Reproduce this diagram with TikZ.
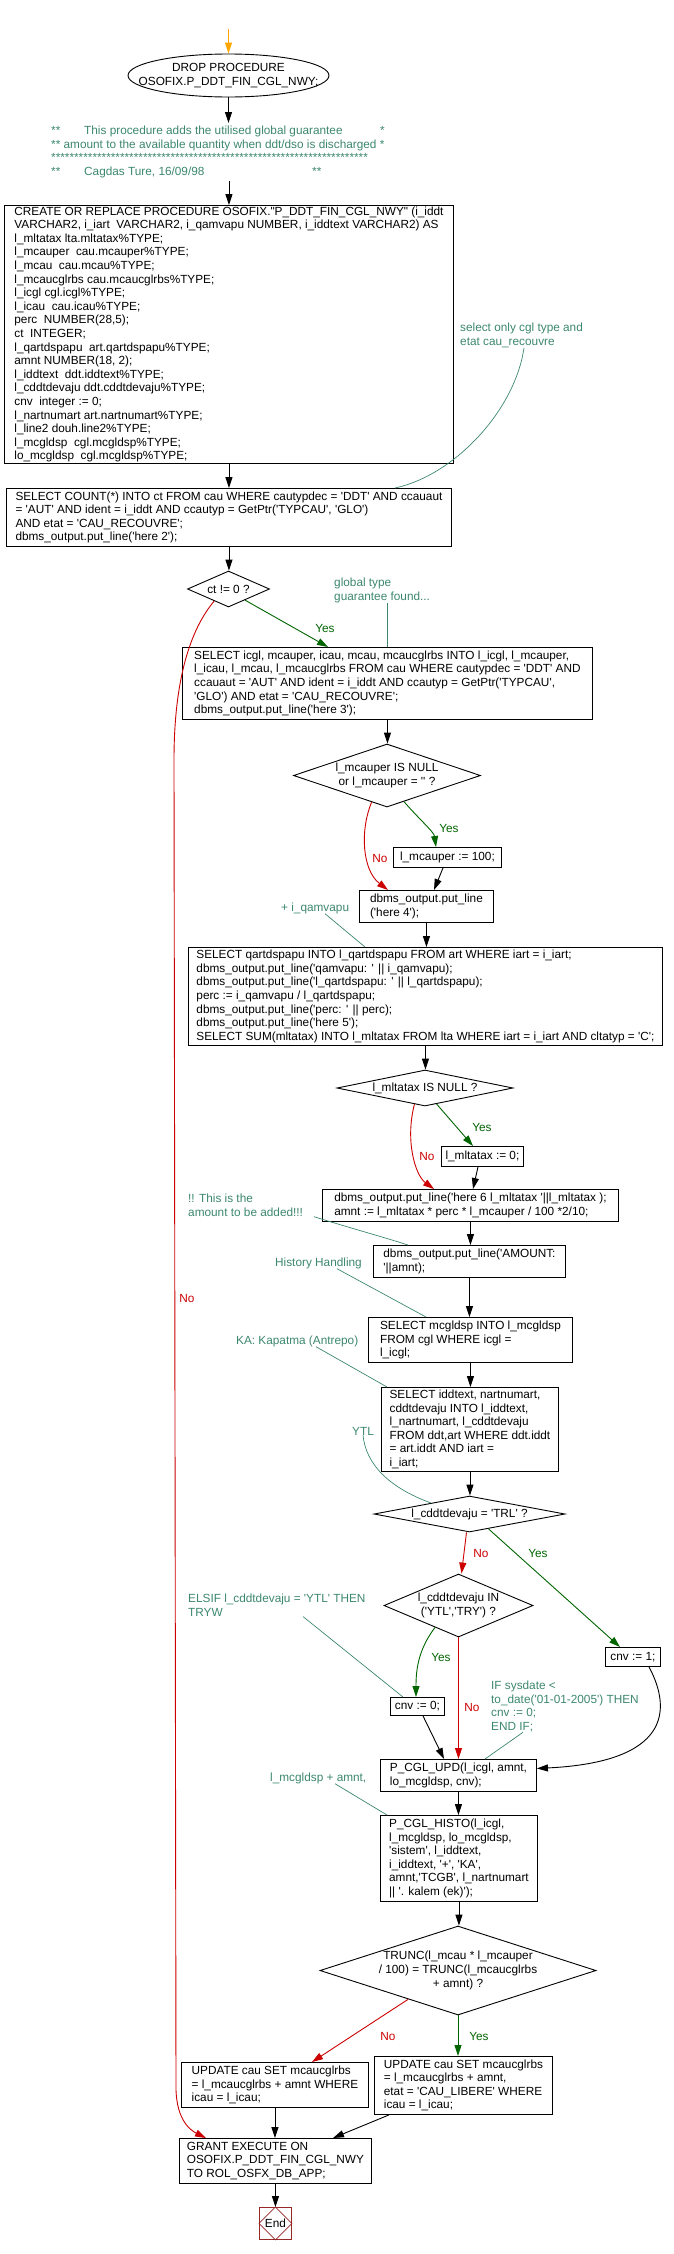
\documentclass[tikz,border=0pt]{standalone}
\usepackage{fontspec}
\newfontfamily\flowfont{Liberation Sans}
\usetikzlibrary{arrows.meta,shapes.geometric}

\definecolor{noteteal}{RGB}{60,135,110}
\definecolor{nored}{RGB}{204,0,0}
\definecolor{yesgreen}{RGB}{0,100,0}
\definecolor{endred}{RGB}{150,40,40}
\definecolor{startorange}{RGB}{255,165,0}

\tikzset{
  every node/.append style={font=\flowfont\fontsize{11.8}{13.6}\selectfont},
  stmt/.style={draw, line width=0.9pt, rectangle, anchor=north west, align=left, inner xsep=4pt, inner ysep=0pt},
  decision/.style={draw, line width=0.9pt, diamond, inner sep=0pt, align=center},
  note/.style={text=noteteal, align=left, inner sep=0pt},
  noteline/.style={draw=noteteal, line width=0.7pt},
  flow/.style={line width=0.9pt, -{Triangle[length=11pt,width=7pt]}},
  yesflow/.style={flow, yesgreen},
  noflow/.style={flow, nored},
  yeslab/.style={text=yesgreen, inner sep=0pt},
  nolab/.style={text=nored, inner sep=0pt},
}

\begin{document}
\begin{tikzpicture}[x=1pt, y=-1pt]
  \useasboundingbox (0,0) rectangle (674,2254);

  %%%%% nodes %%%%%
  \coordinate (entry) at (228.5,29);
  \node[ellipse, draw, line width=0.9pt, minimum width=201pt, minimum height=43pt, inner xsep=-22pt, inner ysep=-4pt, align=center] (start) at (228.5,75.5) {DROP PROCEDURE\\OSOFIX.P\_DDT\_FIN\_CGL\_NWY;};

  \node[note, anchor=north west, inner ysep=3pt] (header) at (51,123) {\makebox[33pt][l]{**}\makebox[296pt][l]{This procedure adds the utilised global guarantee}*\\
    ** amount to the available quantity when ddt/dso is discharged *\\
    *********************************************************************\\
    \makebox[33pt][l]{**}\makebox[228pt][l]{Cagdas Ture, 16/09/98}**};

  \node[stmt, minimum width=449pt, minimum height=258pt] (create) at (4,205) {CREATE OR REPLACE PROCEDURE OSOFIX."P\_DDT\_FIN\_CGL\_NWY" (i\_iddt\\
    VARCHAR2, i\_iart~ VARCHAR2, i\_qamvapu NUMBER, i\_iddtext VARCHAR2) AS\\
    l\_mltatax lta.mltatax\%TYPE;\\
    l\_mcauper~ cau.mcauper\%TYPE;\\
    l\_mcau~ cau.mcau\%TYPE;\\
    l\_mcaucglrbs cau.mcaucglrbs\%TYPE;\\
    l\_icgl cgl.icgl\%TYPE;\\
    l\_icau~ cau.icau\%TYPE;\\
    perc~ NUMBER(28,5);\\
    ct~ INTEGER;\\
    l\_qartdspapu~ art.qartdspapu\%TYPE;\\
    amnt NUMBER(18, 2);\\
    l\_iddtext~ ddt.iddtext\%TYPE;\\
    l\_cddtdevaju ddt.cddtdevaju\%TYPE;\\
    cnv~ integer := 0;\\
    l\_nartnumart art.nartnumart\%TYPE;\\
    l\_line2 douh.line2\%TYPE;\\
    l\_mcgldsp~ cgl.mcgldsp\%TYPE;\\
    lo\_mcgldsp~ cgl.mcgldsp\%TYPE;};

  \node[stmt, minimum width=445pt, minimum height=58pt] (count) at (6,488) {SELECT COUNT(*) INTO ct FROM cau WHERE cautypdec = 'DDT' AND ccauaut\\
    = 'AUT' AND ident = i\_iddt AND ccautyp = GetPtr('TYPCAU', 'GLO')\\
    AND etat = 'CAU\_RECOUVRE';\\
    dbms\_output.put\_line('here 2');};

  \node[decision, minimum width=82pt, minimum height=36pt, aspect=2.28] (d1) at (228.5,589) {ct != 0 ?};

  \node[stmt, minimum width=410pt, minimum height=72pt] (selicgl) at (182,647) {SELECT icgl, mcauper, icau, mcau, mcaucglrbs INTO l\_icgl, l\_mcauper,\\
    l\_icau, l\_mcau, l\_mcaucglrbs FROM cau WHERE cautypdec = 'DDT' AND\\
    ccauaut = 'AUT' AND ident = i\_iddt AND ccautyp = GetPtr('TYPCAU',\\
    'GLO') AND etat = 'CAU\_RECOUVRE';\\
    dbms\_output.put\_line('here 3');};

  \node[decision, minimum width=187pt, minimum height=63pt, aspect=2.97] (d2) at (387,775.5) {l\_mcauper IS NULL\\or l\_mcauper = '' ?};

  \node[stmt, minimum width=108pt, minimum height=20pt] (m100) at (393,847) {l\_mcauper := 100;};
  \node[stmt, minimum width=134pt, minimum height=32pt] (here4) at (359,890) {dbms\_output.put\_line\\('here 4');};

  \node[stmt, minimum width=474pt, minimum height=98pt] (qart) at (188,947) {SELECT qartdspapu INTO l\_qartdspapu FROM art WHERE iart = i\_iart;\\
    dbms\_output.put\_line('qamvapu: ' || i\_qamvapu);\\
    dbms\_output.put\_line('l\_qartdspapu: ' || l\_qartdspapu);\\
    perc := i\_qamvapu / l\_qartdspapu;\\
    dbms\_output.put\_line('perc: ' || perc);\\
    dbms\_output.put\_line('here 5');\\
    SELECT SUM(mltatax) INTO l\_mltatax FROM lta WHERE iart = i\_iart AND cltatyp = 'C';};

  \node[decision, minimum width=176pt, minimum height=36pt, aspect=4.9] (d3) at (425,1088) {l\_mltatax IS NULL ?};

  \node[stmt, minimum width=82pt, minimum height=20pt] (mlt0) at (441,1146) {l\_mltatax := 0;};
  \node[stmt, minimum width=296pt, minimum height=32pt] (here6) at (322,1189) {dbms\_output.put\_line('here 6 l\_mltatax '||l\_mltatax );\\
    amnt := l\_mltatax * perc * l\_mcauper / 100 *2/10;};
  \node[stmt, minimum width=192pt, minimum height=32pt] (amount) at (373,1245) {dbms\_output.put\_line('AMOUNT:\\'||amnt);};
  \node[stmt, minimum width=204pt, minimum height=45pt] (mcgldsp) at (368,1317) {SELECT mcgldsp INTO l\_mcgldsp\\FROM cgl WHERE icgl =\\l\_icgl;};
  \node[stmt, minimum width=177pt, minimum height=84pt] (iddtext) at (381,1387) {SELECT iddtext, nartnumart,\\
    cddtdevaju INTO l\_iddtext,\\
    l\_nartnumart, l\_cddtdevaju\\
    FROM ddt,art WHERE ddt.iddt\\
    = art.iddt AND iart =\\
    i\_iart;};

  \node[decision, minimum width=191pt, minimum height=36pt, aspect=5.3] (d4) at (469.5,1514) {l\_cddtdevaju = 'TRL' ?};
  \node[decision, minimum width=149pt, minimum height=63pt, aspect=2.37] (d5) at (458.5,1605.5) {l\_cddtdevaju IN\\('YTL','TRY') ?};

  \node[stmt, minimum width=55pt, minimum height=19pt] (cnv1) at (605,1647) {cnv := 1;};
  \node[stmt, minimum width=54pt, minimum height=18pt] (cnv0) at (390,1697) {cnv := 0;};

  \node[stmt, minimum width=156pt, minimum height=32pt] (cglupd) at (380,1759) {P\_CGL\_UPD(l\_icgl, amnt,\\lo\_mcgldsp, cnv);};
  \node[stmt, minimum width=157pt, minimum height=86pt] (histo) at (380,1815) {P\_CGL\_HISTO(l\_icgl,\\
    l\_mcgldsp, lo\_mcgldsp,\\
    'sistem', l\_iddtext,\\
    i\_iddtext, '+', 'KA',\\
    amnt,'TCGB', l\_nartnumart\\
    || '. kalem (ek)');};

  \node[decision, minimum width=276pt, minimum height=89pt, aspect=3.1, inner xsep=-6pt] (d6) at (458,1970.5) {TRUNC(l\_mcau * l\_mcauper\\/ 100) = TRUNC(l\_mcaucglrbs\\+ amnt) ?};

  \node[stmt, minimum width=187pt, minimum height=45pt] (updno) at (181,2062) {UPDATE cau SET mcaucglrbs\\= l\_mcaucglrbs + amnt WHERE\\icau = l\_icau;};
  \node[stmt, minimum width=178pt, minimum height=58pt] (updyes) at (374,2056) {UPDATE cau SET mcaucglrbs\\= l\_mcaucglrbs + amnt,\\etat = 'CAU\_LIBERE' WHERE\\icau = l\_icau;};
  \node[stmt, minimum width=192pt, minimum height=45pt] (grant) at (179,2138) {GRANT EXECUTE ON\\OSOFIX.P\_DDT\_FIN\_CGL\_NWY\\TO ROL\_OSFX\_DB\_APP;};

  \node[draw=endred, line width=0.9pt, minimum size=32pt, inner sep=0pt, anchor=north west] (endn) at (259,2207) {End};
  \draw[endred, line width=0.7pt] (endn.north) -- (endn.east) -- (endn.south) -- (endn.west) -- cycle;

  %%%%% notes %%%%%
  \node[note, anchor=north west] (a1) at (460,323) {select only cgl type and\\etat cau\_recouvre};
  \node[note, anchor=north west] (a2) at (334,578) {global type\\guarantee found...};
  \node[note, anchor=west] (a3) at (281,908) {+ i\_qamvapu};
  \node[note, anchor=north west] (a4) at (188,1194) {!! This is the\\amount to be added!!!};
  \node[note, anchor=west] (a5) at (275,1263) {History Handling};
  \node[note, anchor=west] (a6) at (236,1341) {KA: Kapatma (Antrepo)};
  \node[note, anchor=west] (a7) at (352,1431) {YTL};
  \node[note, anchor=north west] (a8) at (188,1594) {ELSIF l\_cddtdevaju = 'YTL' THEN\\TRYW};
  \node[note, anchor=north west] (a9) at (491,1681) {IF sysdate <\\to\_date('01-01-2005') THEN\\cnv := 0;\\END IF;};
  \node[note, anchor=west] (a10) at (270,1778) {l\_mcgldsp + amnt,};

  \draw[noteline] ([xshift=64pt]a1.south west) .. controls (515,410) and (455,475) .. ([xshift=389pt]count.north west);
  \draw[noteline] ([xshift=53pt]a2.south west) -- ([xshift=205pt]selicgl.north west);
  \draw[noteline] ([xshift=44pt]a3.south west) -- ([xshift=177pt]qart.north west);
  \draw[noteline] ([xshift=126pt]a4.south west) .. controls (350,1228) and (380,1236) .. ([xshift=35pt]amount.north west);
  \draw[noteline] ([xshift=62pt]a5.south west) -- ([xshift=58pt]mcgldsp.north west);
  \draw[noteline] ([xshift=80pt]a6.south west) -- ([xshift=6pt]iddtext.north west);
  \draw[noteline] ([xshift=11pt]a7.south west) .. controls (366,1465) and (390,1488) .. (d4.164);
  \draw[noteline] ([xshift=115pt]a8.south west) -- ([xshift=13pt]cnv0.north west);
  \draw[noteline] ([xshift=32pt]a9.south west) -- ([xshift=105pt]cglupd.north west);
  \draw[noteline] ([xshift=65pt]a10.south west) -- ([xshift=7pt]histo.north west);

  %%%%% flow %%%%%
  \draw[flow, startorange] (entry) -- (start.north);
  \draw[flow] (start.south) -- (start.south |- header.north);
  \draw[flow] (create.north |- header.south) -- (create.north);
  \draw[flow] (create.south) -- (create.south |- count.north);
  \draw[flow] (count.south) -- (count.south |- d1.north);

  \draw[yesflow] (d1.-34) -- ([xshift=146pt]selicgl.north west);
  \draw[noflow] (d1.220) .. controls (190,630) and (174,680) .. (174,760) -- (176,2090) .. controls (177,2120) and (190,2130) .. ([xshift=27pt]grant.north west);

  \draw[flow] (selicgl.south) -- (selicgl.south |- d2.north);
  \draw[yesflow] (d2.-57) .. controls (420,820) and (434,832) .. ([xshift=43pt]m100.north west);
  \draw[noflow] (d2.240) .. controls (360,830) and (362,870) .. ([xshift=29pt]here4.north west);
  \draw[flow] ([xshift=50pt]m100.south west) -- ([xshift=75pt]here4.north west);
  \draw[flow] (here4.south) -- (here4.south |- qart.north);
  \draw[flow] (qart.south) -- (qart.south |- d3.north);

  \draw[yesflow] (d3.-54) -- ([xshift=32pt]mlt0.north west);
  \draw[noflow] (d3.237) .. controls (405,1140) and (415,1175) .. ([xshift=112pt]here6.north west);
  \draw[flow] ([xshift=37pt]mlt0.south west) -- ([xshift=151pt]here6.north west);
  \draw[flow] (here6.south) -- (here6.south |- amount.north);
  \draw[flow] (amount.south) -- (amount.south |- mcgldsp.north);
  \draw[flow] (mcgldsp.south) -- (mcgldsp.south |- iddtext.north);
  \draw[flow] (iddtext.south) -- (iddtext.south |- d4.north);

  \draw[noflow] ([xshift=-3pt]d4.south) -- ([xshift=3pt]d5.north);
  \draw[yesflow] (d4.-38) -- ([xshift=15pt]cnv1.north west);
  \draw[yesflow] (d5.223) .. controls (418,1650) and (416,1670) .. ([xshift=26pt]cnv0.north west);
  \draw[noflow] (d5.south) -- (d5.south |- cglupd.north);
  \draw[flow] ([xshift=33pt]cnv0.south west) -- ([xshift=64pt]cglupd.north west);
  \draw[flow] ([xshift=44pt]cnv1.south west) .. controls (672,1710) and (670,1762) .. ([yshift=7pt]cglupd.east);

  \draw[flow] (cglupd.south) -- (cglupd.south |- histo.north);
  \draw[flow] (histo.south) -- (histo.south |- d6.north);
  \draw[noflow] (d6.210) -- ([xshift=131pt]updno.north west);
  \draw[yesflow] (d6.south) -- (d6.south |- updyes.north);
  \draw[flow] (updno.south) -- (updno.south |- grant.north);
  \draw[flow] ([xshift=15pt]updyes.south west) -- ([xshift=154pt]grant.north west);
  \draw[flow] (grant.south) -- (grant.south |- endn.north);

  %%%%% labels %%%%%
  \node[yeslab] (y1) at (325,628) {Yes};
  \node[yeslab] (y2) at (449,828) {Yes};
  \node[nolab] (n2) at (380,858) {No};
  \node[yeslab] (y3) at (482,1127) {Yes};
  \node[nolab] (n3) at (427,1156) {No};
  \node[nolab] (n1) at (187,1298) {No};
  \node[nolab] (n4) at (481,1553) {No};
  \node[yeslab] (y4) at (538,1553) {Yes};
  \node[yeslab] (y5) at (441,1657) {Yes};
  \node[nolab] (n5) at (472,1707) {No};
  \node[nolab] (n6) at (388,2036) {No};
  \node[yeslab] (y6) at (479,2036) {Yes};
\end{tikzpicture}
\end{document}
